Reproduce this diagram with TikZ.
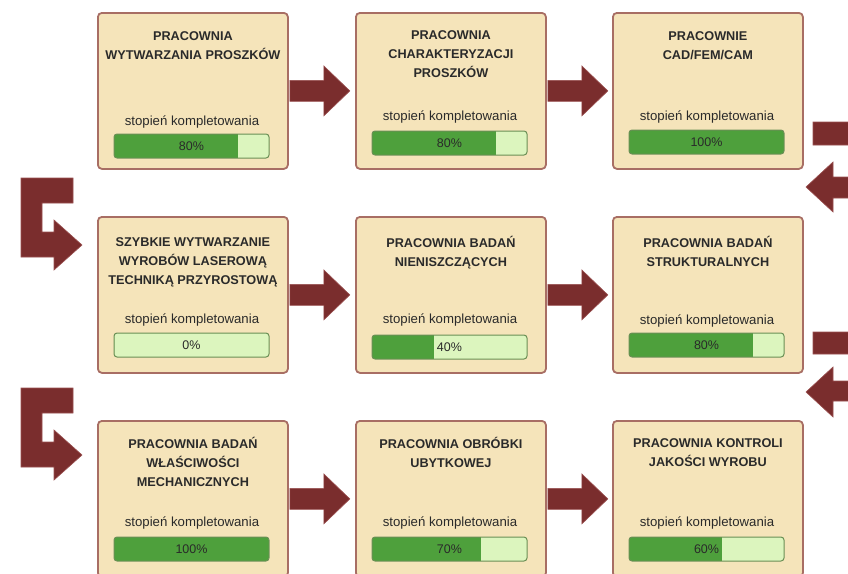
\documentclass[tikz,border=0pt]{standalone}
\usepackage{fontspec}
\setmainfont{Liberation Sans}
\usetikzlibrary{calc}
\definecolor{boxfill}{HTML}{F5E4BA}
\definecolor{boxedge}{HTML}{A86E64}
\definecolor{bardark}{HTML}{4EA03C}
\definecolor{barlight}{HTML}{DCF5BE}
\definecolor{baredge}{HTML}{6A8F55}
\definecolor{arrowc}{HTML}{7A2D2D}
\definecolor{arrowedge}{HTML}{9A5050}
\definecolor{txt}{HTML}{2A2A2A}
\tikzset{
  labbox/.style={draw=boxedge, fill=boxfill, line width=1.8pt, rounded corners=4pt,
    minimum width=190pt, minimum height=156pt, anchor=north west, inner sep=0pt},
  ttl/.style={font=\bfseries\fontsize{12.7}{19}\selectfont, align=center, text=txt,
    anchor=north, inner sep=0pt},
  stp/.style={font=\fontsize{13.2}{15}\selectfont, text=txt, inner sep=0pt},
  pct/.style={font=\fontsize{12.5}{14}\selectfont, text=txt, inner sep=0pt},
  blockarrow/.style={fill=arrowc, draw=arrowedge, line width=0.6pt},
  baroutline/.style={draw=baredge, line width=1pt, rounded corners=3pt},
}
\newcommand\tstrut{\rule{0pt}{10pt}}
% #1 name, #2 x, #3 y, #4 title, #5 percent, #6 title baseline offset, #7 label offset, #8 bar offset
\newcommand\labpanel[8]{%
  \node[labbox] (#1) at (#2,#3) {};
  \node[ttl] (#1-t) at ($(#1.north)+(0,{#6-10})$) {\tstrut #4};
  \node[stp] (#1-s) at ($(#1.north west)+(95,#7)$) {stopień kompletowania};
  \coordinate (#1-bl) at ($(#1.north west)+(17,#8)$);
  \coordinate (#1-br) at ($(#1.north west)+(172,{#8+24})$);
  \coordinate (#1-bf) at ($(#1.north west)+({17+1.55*#5},{#8+24})$);
  \begin{scope}
    \clip[rounded corners=3pt] (#1-bl) rectangle (#1-br);
    \fill[barlight] (#1-bl) rectangle (#1-br);
    \fill[bardark] (#1-bl) rectangle (#1-bf);
  \end{scope}
  \draw[baroutline] (#1-bl) rectangle (#1-br);
  \node[pct] (#1-p) at ($(#1-bl)!0.5!(#1-br)$) {#5\%};
}
\newcommand\harrow[2]{%
  \coordinate (#1-out) at ($(#1.east)+(1,0)$);
  \filldraw[blockarrow] ($(#1-out)+(0,-10.5)$) -- ++(34,0) -- ++(0,-14.5)
    -- ++(26,25) -- ++(-26,25) -- ++(0,-14.5) -- ++(-34,0) -- cycle;
}
\begin{document}
\begin{tikzpicture}[x=1pt,y=-1pt]
\useasboundingbox (0,0) rectangle (848,573);
\fill[white] (0,0) rectangle (848,573);
\clip (0,0) rectangle (848,573);

\labpanel{b11}{97}{12}{PRACOWNIA\\WYTWARZANIA PROSZKÓW}{80}{28}{110}{122}
\labpanel{b12}{355}{12}{PRACOWNIA\\CHARAKTERYZACJI\\PROSZKÓW}{80}{27.5}{105}{119}
\labpanel{b13}{612}{12}{PRACOWNIE\\CAD/FEM/CAM}{100}{28}{105}{118}

\labpanel{b21}{97}{216}{SZYBKIE WYTWARZANIE\\WYROBÓW LASEROWĄ\\TECHNIKĄ PRZYROSTOWĄ}{0}{30}{104}{117}
\labpanel{b22}{355}{216}{PRACOWNIA BADAŃ\\NIENISZCZĄCYCH}{40}{30}{104}{119}
\labpanel{b23}{612}{216}{PRACOWNIA BADAŃ\\STRUKTURALNYCH}{80}{30}{105}{117}

\labpanel{b31}{97}{420}{PRACOWNIA BADAŃ\\WŁAŚCIWOŚCI\\MECHANICZNYCH}{100}{27.5}{103}{117}
\labpanel{b32}{355}{420}{PRACOWNIA OBRÓBKI\\UBYTKOWEJ}{70}{27.5}{103}{117}
\labpanel{b33}{612}{420}{PRACOWNIA KONTROLI\\JAKOŚCI WYROBU}{60}{27.5}{103}{117}

\harrow{b11}{b12}
\harrow{b12}{b13}
\harrow{b21}{b22}
\harrow{b22}{b23}
\harrow{b31}{b32}
\harrow{b32}{b33}

% right-hand return arrows (run off the right edge)
\coordinate (r1) at (806,187);
\filldraw[blockarrow] (813,122) -- (870,122) -- (870,198) -- (833,198) -- (833,212)
  -- (r1) -- (833,162) -- (833,177) -- (850,177) -- (850,145) -- (813,145) -- cycle;
\coordinate (r2) at (806,392);
\filldraw[blockarrow] (813,332) -- (870,332) -- (870,401) -- (833,401) -- (833,417)
  -- (r2) -- (833,367) -- (833,381) -- (850,381) -- (850,354) -- (813,354) -- cycle;

% left-hand entry arrows
\coordinate (l1) at (82,245);
\filldraw[blockarrow] (21,178) -- (73,178) -- (73,203) -- (42,203) -- (42,232) -- (54,232)
  -- (54,220) -- (l1) -- (54,270) -- (54,257) -- (21,257) -- cycle;
\coordinate (l2) at (82,455);
\filldraw[blockarrow] (21,388) -- (73,388) -- (73,413) -- (42,413) -- (42,442) -- (54,442)
  -- (54,430) -- (l2) -- (54,480) -- (54,467) -- (21,467) -- cycle;
\end{tikzpicture}
\end{document}
